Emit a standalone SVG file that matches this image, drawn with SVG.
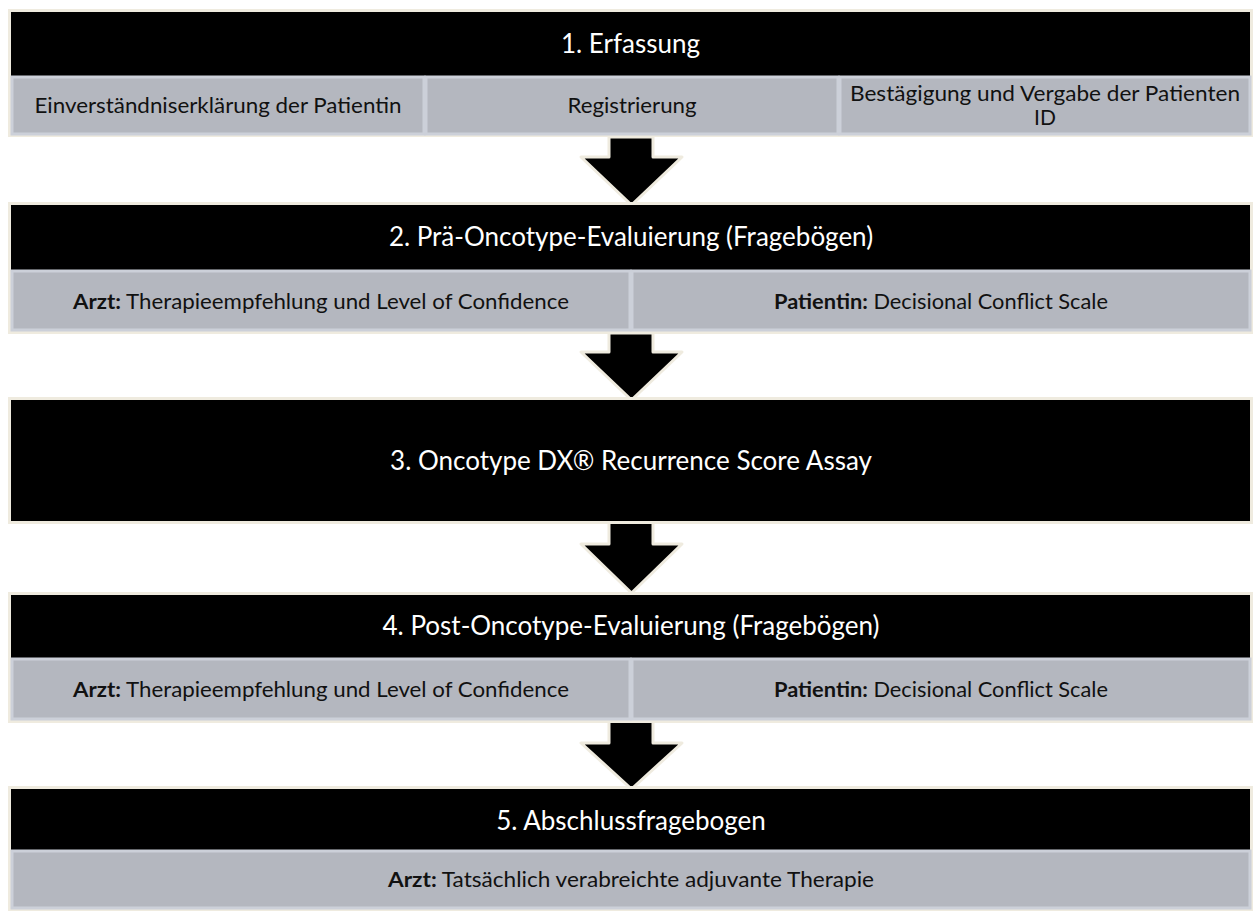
<svg xmlns="http://www.w3.org/2000/svg" width="1257" height="916" viewBox="0 0 1257 916">
<style>
.frame{fill:#000;stroke:#efebdf;stroke-width:3}
.bar{fill:#000}
.cell{fill:#b4b7bf;stroke:#ccd0d9;stroke-width:3}
.title{font-family:Lato,"Open Sans",sans-serif;font-size:26px;fill:#fff;text-anchor:middle}
.sub{font-family:Lato,"Open Sans",sans-serif;font-size:21px;fill:#111;text-anchor:middle}
.b{font-weight:bold}
.arrow{fill:#000;stroke:#efebdf;stroke-width:3;stroke-linejoin:round}
</style>
<rect width="1257" height="916" fill="#fff"/>
<g id="connectors">
<polygon class="arrow" points="609,137 653,137 653,157 682,157 631.5,205 581,157 609,157"/>
<polygon class="arrow" points="609,333 653,333 653,352 682,352 631.5,400 581,352 609,352"/>
<polygon class="arrow" points="609,522 653,522 653,544 682,544 631.5,593 581,544 609,544"/>
<polygon class="arrow" points="609,720 653,720 653,743 682,743 631.5,789 581,743 609,743"/>
</g>
<g id="node1">
<rect class="frame" x="9.5" y="10.5" width="1242" height="125"/>
<rect class="bar" x="11" y="12" width="1239" height="64"/>
<rect class="cell" x="12" y="77" width="412" height="57"/>
<rect class="cell" x="426" y="77" width="412" height="57"/>
<rect class="cell" x="840" y="77" width="410" height="57"/>
<text class="title" x="630.5" y="53">1. Erfassung</text>
<text class="sub" x="218" y="113" textLength="367" lengthAdjust="spacingAndGlyphs">Einverständniserklärung der Patientin</text>
<text class="sub" x="632" y="113" textLength="129" lengthAdjust="spacingAndGlyphs">Registrierung</text>
<text class="sub" x="1045" y="101" textLength="390" lengthAdjust="spacingAndGlyphs">Bestägigung und Vergabe der Patienten</text>
<text class="sub" x="1045" y="125">ID</text>
</g>
<g id="node2">
<rect class="frame" x="9.5" y="203.5" width="1242" height="129"/>
<rect class="bar" x="11" y="205" width="1239" height="65"/>
<rect class="cell" x="12" y="271" width="618" height="59"/>
<rect class="cell" x="632" y="271" width="618" height="59"/>
<text class="title" x="631" y="246">2. Prä-Oncotype-Evaluierung (Fragebögen)</text>
<text class="sub" x="321" y="309" textLength="496" lengthAdjust="spacingAndGlyphs"><tspan class="b">Arzt:</tspan> Therapieempfehlung und Level of Confidence</text>
<text class="sub" x="941" y="309" textLength="334" lengthAdjust="spacingAndGlyphs"><tspan class="b">Patientin:</tspan> Decisional Conflict Scale</text>
</g>
<g id="node3">
<rect class="frame" x="9.5" y="398.5" width="1242" height="124"/>
<text class="title" x="631" y="470">3. Oncotype DX® Recurrence Score Assay</text>
</g>
<g id="node4">
<rect class="frame" x="9.5" y="593.5" width="1242" height="128"/>
<rect class="bar" x="11" y="595" width="1239" height="63"/>
<rect class="cell" x="12" y="659" width="618" height="60"/>
<rect class="cell" x="632" y="659" width="618" height="60"/>
<text class="title" x="631" y="635">4. Post-Oncotype-Evaluierung (Fragebögen)</text>
<text class="sub" x="321" y="697" textLength="496" lengthAdjust="spacingAndGlyphs"><tspan class="b">Arzt:</tspan> Therapieempfehlung und Level of Confidence</text>
<text class="sub" x="941" y="697" textLength="334" lengthAdjust="spacingAndGlyphs"><tspan class="b">Patientin:</tspan> Decisional Conflict Scale</text>
</g>
<g id="node5">
<rect class="frame" x="9.5" y="787.5" width="1242" height="122"/>
<rect class="bar" x="11" y="789" width="1239" height="61"/>
<rect class="cell" x="12" y="851" width="1238" height="57"/>
<text class="title" x="631" y="830">5. Abschlussfragebogen</text>
<text class="sub" x="631" y="887" textLength="486" lengthAdjust="spacingAndGlyphs"><tspan class="b">Arzt:</tspan> Tatsächlich verabreichte adjuvante Therapie</text>
</g>
</svg>
